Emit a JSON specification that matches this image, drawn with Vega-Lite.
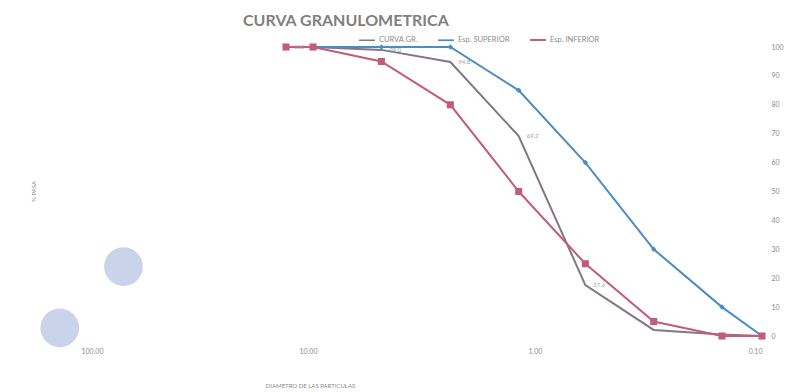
{
  "$schema": "https://vega.github.io/schema/vega-lite/v6.json",
  "autosize": {"type": "none"},
  "padding": {"left": 81, "top": 47, "right": 49, "bottom": 56},
  "width": 681,
  "height": 289,
  "background": "white",
  "config": {"font": "Lato", "view": {"stroke": null}},
  "title": {
    "text": "CURVA GRANULOMETRICA",
    "anchor": "start",
    "frame": "group",
    "dx": 162,
    "offset": 2,
    "fontSize": 16,
    "fontWeight": "bold",
    "color": "#7f7f7f",
    "font": "Lato"
  },
  "datasets": {
    "curves": [
      {"serie": "CURVA GR.", "d": 12.5, "pct": 100, "lbl": "100"},
      {"serie": "CURVA GR.", "d": 9.5, "pct": 100, "lbl": ""},
      {"serie": "CURVA GR.", "d": 4.75, "pct": 99.0, "lbl": "99.0"},
      {"serie": "CURVA GR.", "d": 2.36, "pct": 94.8, "lbl": "94.8"},
      {"serie": "CURVA GR.", "d": 1.18, "pct": 69.2, "lbl": "69.2"},
      {"serie": "CURVA GR.", "d": 0.6, "pct": 17.6, "lbl": "17.6"},
      {"serie": "CURVA GR.", "d": 0.3, "pct": 2.1, "lbl": ""},
      {"serie": "CURVA GR.", "d": 0.15, "pct": 0.5, "lbl": ""},
      {"serie": "CURVA GR.", "d": 0.1, "pct": 0, "lbl": ""},
      {"serie": "Esp. SUPERIOR", "d": 9.5, "pct": 100},
      {"serie": "Esp. SUPERIOR", "d": 4.75, "pct": 100},
      {"serie": "Esp. SUPERIOR", "d": 2.36, "pct": 100},
      {"serie": "Esp. SUPERIOR", "d": 1.18, "pct": 85},
      {"serie": "Esp. SUPERIOR", "d": 0.6, "pct": 60},
      {"serie": "Esp. SUPERIOR", "d": 0.3, "pct": 30},
      {"serie": "Esp. SUPERIOR", "d": 0.15, "pct": 10},
      {"serie": "Esp. SUPERIOR", "d": 0.1, "pct": 0},
      {"serie": "Esp. INFERIOR", "d": 12.5, "pct": 100},
      {"serie": "Esp. INFERIOR", "d": 9.5, "pct": 100},
      {"serie": "Esp. INFERIOR", "d": 4.75, "pct": 95},
      {"serie": "Esp. INFERIOR", "d": 2.36, "pct": 80},
      {"serie": "Esp. INFERIOR", "d": 1.18, "pct": 50},
      {"serie": "Esp. INFERIOR", "d": 0.6, "pct": 25},
      {"serie": "Esp. INFERIOR", "d": 0.3, "pct": 5},
      {"serie": "Esp. INFERIOR", "d": 0.15, "pct": 0},
      {"serie": "Esp. INFERIOR", "d": 0.1, "pct": 0}
    ],
    "decor": [
      {"d": 65, "pct": 24},
      {"d": 124, "pct": 2.8}
    ]
  },
  "encoding": {
    "x": {
      "field": "d", "type": "quantitative",
      "scale": {"type": "log", "domain": [0.1, 100], "reverse": true, "nice": false},
      "axis": {
        "values": [100, 10, 1, 0.1],
        "format": ".2f",
        "title": "DIAMETRO DE LAS PARTICULAS",
        "titleFontSize": 6,
        "titleFontWeight": "normal",
        "titleColor": "#8a8a8a",
        "titleX": 229,
        "titleY": 49,
        "titleAlign": "center",
        "titleBaseline": "middle",
        "labelFontSize": 7,
        "labelColor": "#8a8a8a",
        "labelPadding": 11,
        "labelOverlap": false,
        "domain": false,
        "ticks": false,
        "grid": false
      }
    },
    "y": {
      "field": "pct", "type": "quantitative",
      "scale": {"domain": [0, 100], "nice": false},
      "axis": {
        "orient": "right",
        "values": [0, 10, 20, 30, 40, 50, 60, 70, 80, 90, 100],
        "title": "% PASA",
        "titleFontSize": 6,
        "titleFontWeight": "normal",
        "titleColor": "#8a8a8a",
        "titleX": -729,
        "titleY": 144,
        "titleAngle": 270,
        "titleAlign": "center",
        "titleBaseline": "middle",
        "labelFontSize": 7,
        "labelColor": "#8a8a8a",
        "labelPadding": 9,
        "labelOverlap": false,
        "domain": false,
        "ticks": false,
        "grid": false
      }
    }
  },
  "layer": [
    {
      "data": {"name": "decor"},
      "mark": {"type": "point", "filled": true, "shape": "circle", "size": 1500, "color": "#c9d3ea", "opacity": 1}
    },
    {
      "data": {"name": "curves"},
      "mark": {"type": "line", "strokeWidth": 2},
      "encoding": {
        "color": {
          "field": "serie", "type": "nominal",
          "sort": ["CURVA GR.", "Esp. SUPERIOR", "Esp. INFERIOR"],
          "scale": {"domain": ["CURVA GR.", "Esp. SUPERIOR", "Esp. INFERIOR"], "range": ["#857585", "#4a8cc4", "#c25c7a"]},
          "legend": {
            "orient": "none",
            "legendX": 277,
            "legendY": -16,
            "direction": "horizontal",
            "title": null,
            "symbolType": "stroke",
            "symbolSize": 250,
            "symbolStrokeWidth": 2,
            "labelFontSize": 7.5,
            "labelColor": "#8a8a8a",
            "columnPadding": 16,
            "labelOffset": 3
          }
        },
        "strokeWidth": {
          "field": "serie", "type": "nominal",
          "scale": {"domain": ["CURVA GR.", "Esp. SUPERIOR", "Esp. INFERIOR"], "range": [1.5, 2, 2]},
          "legend": null
        }
      }
    },
    {
      "data": {"name": "curves"},
      "transform": [{"filter": "datum.serie !== 'CURVA GR.'"}],
      "mark": {"type": "point", "filled": true, "opacity": 1},
      "encoding": {
        "color": {"field": "serie", "type": "nominal"},
        "shape": {
          "field": "serie", "type": "nominal",
          "scale": {"domain": ["Esp. SUPERIOR", "Esp. INFERIOR"], "range": ["diamond", "square"]},
          "legend": null
        },
        "size": {
          "field": "serie", "type": "nominal",
          "scale": {"domain": ["Esp. SUPERIOR", "Esp. INFERIOR"], "range": [30, 50]},
          "legend": null
        }
      }
    },
    {
      "data": {"name": "curves"},
      "transform": [{"filter": "datum.serie === 'CURVA GR.'"}],
      "mark": {"type": "text", "align": "left", "dx": 8, "fontSize": 6, "color": "#a0a0a0"},
      "encoding": {
        "text": {"field": "lbl"}
      }
    }
  ]
}
